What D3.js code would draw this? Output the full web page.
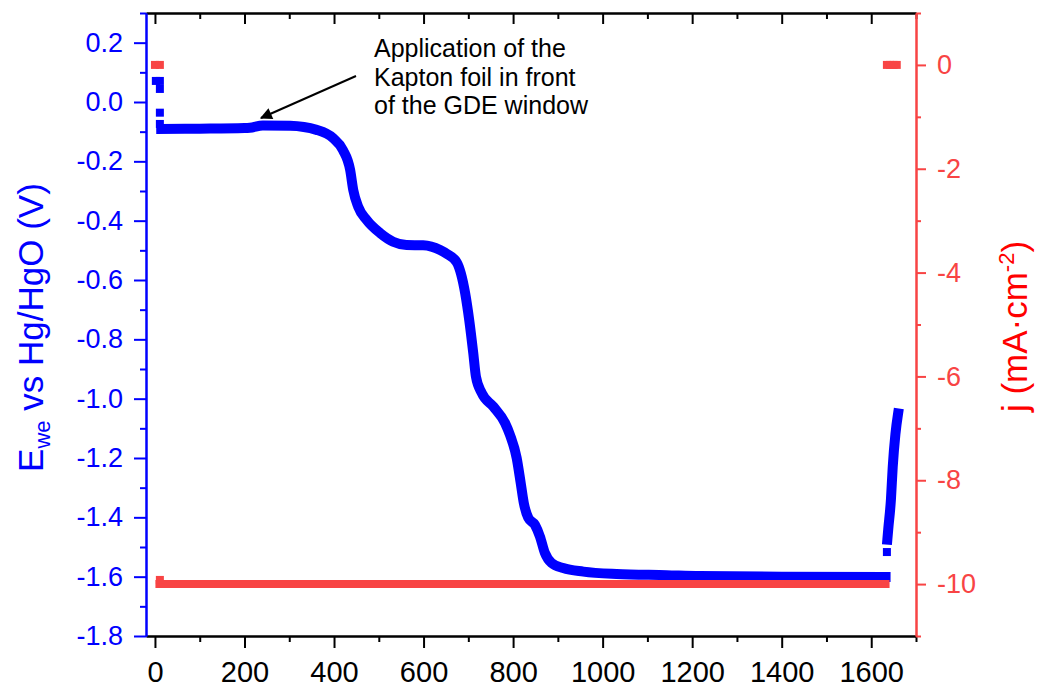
<!DOCTYPE html>
<html>
<head>
<meta charset="utf-8">
<script src="https://cdn.jsdelivr.net/npm/d3@7"></script>
<style>
  body { margin: 0; background: #fff; }
  text { font-family: "Liberation Sans", Arial, sans-serif; }
</style>
</head>
<body>
<svg id="chart" width="1046" height="687"></svg>
<script>
// E_we vs Hg/HgO (V) against time (s)
const eStartPts = [[2, 0.071], [11, 0.071], [11, 0.044], [11, -0.036], [11, -0.074]];
const eCurve = [
  [14, -0.091], [100, -0.090], [200, -0.088], [212, -0.087], [241, -0.079], [302, -0.080],
  [361, -0.094], [398, -0.122], [420, -0.162], [436, -0.229], [443, -0.297], [454, -0.353],
  [473, -0.398], [503, -0.442], [532, -0.471], [562, -0.482], [599, -0.483], [637, -0.499],
  [652, -0.512], [674, -0.54], [693, -0.645], [702, -0.735], [711, -0.846], [717, -0.926],
  [730, -0.981], [756, -1.027], [782, -1.082], [793, -1.122], [808, -1.2], [817, -1.284],
  [824, -1.352], [834, -1.402], [849, -1.426], [860, -1.465], [871, -1.52], [886, -1.554],
  [912, -1.571], [957, -1.583], [1031, -1.591], [1143, -1.595], [1217, -1.598], [1400, -1.600],
  [1632, -1.601]
];
const eEndPts = [[1635, -1.517]];
const eRecovery = [[1636, -1.475], [1638, -1.44], [1644, -1.34], [1648, -1.23], [1654, -1.12], [1660, -1.05]];

// j (mA cm-2) against time (s)
const jPts = [[0, 0], [11, 0], [1635, 0], [1642, 0], [1650, 0], [1657, 0], [11, -9.92]];
const jCurve = [[10, -10], [1632, -10]];

// axes
const xMajor = [0, 200, 400, 600, 800, 1000, 1200, 1400, 1600];
const xLabels = ["0", "200", "400", "600", "800", "1000", "1200", "1400", "1600"];
const eMajor = [0.2, 0.0, -0.2, -0.4, -0.6, -0.8, -1.0, -1.2, -1.4, -1.6, -1.8];
const eLabels = ["0.2", "0.0", "-0.2", "-0.4", "-0.6", "-0.8", "-1.0", "-1.2", "-1.4", "-1.6", "-1.8"];
const jMajor = [0, -2, -4, -6, -8, -10];
const jLabels = ["0", "-2", "-4", "-6", "-8", "-10"];
const noteLines = ["Application of the", "Kapton foil in front", "of the GDE window"];

const blue = "#0000ff", red = "#f84444";

const svg = d3.select("#chart");
const pLeft = 146, pRight = 916, pTop = 13, pBottom = 636;

const x = d3.scaleLinear().domain([-20, 1700]).range([pLeft, pRight]);
const yE = d3.scaleLinear().domain([-1.8, 0.3]).range([pBottom, pTop]);
const yJ = d3.scaleLinear().domain([-11, 1]).range([pBottom, pTop]);

function styleAxis(g, color, fontSize) {
  g.attr("font-family", null).attr("font-size", null);
  g.select(".domain").attr("stroke", color).attr("stroke-width", 2);
  g.selectAll(".tick line").attr("stroke", color).attr("stroke-width", 2);
  g.selectAll(".tick text").attr("fill", color).style("font-size", fontSize + "px");
}

// minor ticks
const xMinor = x.ticks(17).filter(d => d >= 0 && !xMajor.includes(d));
const eMinor = yE.ticks(21).filter(d => !eMajor.some(m => Math.abs(m - d) < 1e-6));
const jMinor = yJ.ticks(12).filter(d => !jMajor.includes(d));

// top frame (ticks inward)
svg.append("g").attr("transform", `translate(0,${pTop})`)
  .call(d3.axisBottom(x).tickValues(xMajor).tickSize(11).tickSizeOuter(0).tickFormat(""))
  .call(g => styleAxis(g, "#000", 0));
svg.append("g").attr("transform", `translate(0,${pTop})`)
  .call(d3.axisBottom(x).tickValues(xMinor).tickSize(6).tickSizeOuter(0).tickFormat(""))
  .call(g => styleAxis(g, "#000", 0));

// bottom axis
svg.append("g").attr("transform", `translate(0,${pBottom})`)
  .call(d3.axisBottom(x).tickValues(xMajor).tickSize(12).tickSizeOuter(0).tickPadding(13)
    .tickFormat((d, i) => xLabels[i]))
  .call(g => styleAxis(g, "#000", 29));
svg.append("g").attr("transform", `translate(0,${pBottom})`)
  .call(d3.axisBottom(x).tickValues(xMinor).tickSize(6).tickSizeOuter(0).tickFormat(""))
  .call(g => styleAxis(g, "#000", 0));

// left axis (E)
svg.append("g").attr("transform", `translate(${pLeft},0)`)
  .call(d3.axisLeft(yE).tickValues(eMajor).tickSize(12).tickSizeOuter(0).tickPadding(11)
    .tickFormat((d, i) => eLabels[i]))
  .call(g => styleAxis(g, blue, 27));
svg.append("g").attr("transform", `translate(${pLeft},0)`)
  .call(d3.axisLeft(yE).tickValues(eMinor).tickSize(6).tickSizeOuter(0).tickFormat(""))
  .call(g => styleAxis(g, blue, 0));

// right axis (j)
svg.append("g").attr("transform", `translate(${pRight},0)`)
  .call(d3.axisRight(yJ).tickValues(jMajor).tickSize(10).tickSizeOuter(0).tickPadding(11)
    .tickFormat((d, i) => jLabels[i]))
  .call(g => styleAxis(g, red, 27));
svg.append("g").attr("transform", `translate(${pRight},0)`)
  .call(d3.axisRight(yJ).tickValues(jMinor).tickSize(5).tickSizeOuter(0).tickFormat(""))
  .call(g => styleAxis(g, red, 0));

// data
const m = 8;
const lineE = d3.line().x(d => x(d[0])).y(d => yE(d[1])).curve(d3.curveMonotoneX);
const lineJ = d3.line().x(d => x(d[0])).y(d => yJ(d[1]));

[eCurve, eRecovery].forEach(data => {
  svg.append("path").datum(data).attr("d", lineE)
    .attr("fill", "none").attr("stroke", blue).attr("stroke-width", 10)
    .attr("stroke-linecap", "square").attr("stroke-linejoin", "round");
});
svg.selectAll(".eMark").data(eStartPts.concat(eEndPts)).join("rect")
  .attr("class", "eMark")
  .attr("x", d => x(d[0]) - m / 2).attr("y", d => yE(d[1]) - m / 2)
  .attr("width", m).attr("height", m).attr("fill", blue);

svg.append("path").datum(jCurve).attr("d", lineJ)
  .attr("fill", "none").attr("stroke", red).attr("stroke-width", 8)
  .attr("stroke-linecap", "square");
svg.selectAll(".jMark").data(jPts).join("rect")
  .attr("class", "jMark")
  .attr("x", d => x(d[0]) - m / 2).attr("y", d => yJ(d[1]) - m / 2)
  .attr("width", m).attr("height", m).attr("fill", red);

// axis titles
const tE = svg.append("text")
  .attr("transform", `translate(43,${(pTop + pBottom) / 2 + 3}) rotate(-90)`)
  .attr("text-anchor", "middle").attr("fill", blue).style("font-size", "35px");
tE.append("tspan").text("E");
tE.append("tspan").attr("dy", 7).style("font-size", "22px").text("we");
tE.append("tspan").attr("dy", -7).text(" vs Hg/HgO (V)");

const tJ = svg.append("text")
  .attr("transform", `translate(1027,${(pTop + pBottom) / 2 + 2}) rotate(-90)`)
  .attr("text-anchor", "middle").attr("fill", "#ff0000").style("font-size", "35px");
tJ.append("tspan").text("j (mA·cm");
tJ.append("tspan").attr("dy", -13).style("font-size", "22px").text("-2");
tJ.append("tspan").attr("dy", 13).text(")");

// annotation
svg.append("defs").append("marker")
  .attr("id", "arrow").attr("viewBox", "0 0 10 10").attr("refX", 9).attr("refY", 5)
  .attr("markerUnits", "userSpaceOnUse").attr("markerWidth", 15).attr("markerHeight", 12)
  .attr("orient", "auto")
  .append("path").attr("d", "M0,0L10,5L0,10z").attr("fill", "#000");
svg.append("line")
  .attr("x1", 356).attr("y1", 76).attr("x2", 261).attr("y2", 118)
  .attr("stroke", "#000").attr("stroke-width", 2).attr("marker-end", "url(#arrow)");
svg.selectAll(".note").data(noteLines).join("text")
  .attr("class", "note")
  .attr("x", 374).attr("y", (d, i) => 57 + i * 28.5)
  .attr("fill", "#000").style("font-size", "25px")
  .text(d => d);
</script>
</body>
</html>
